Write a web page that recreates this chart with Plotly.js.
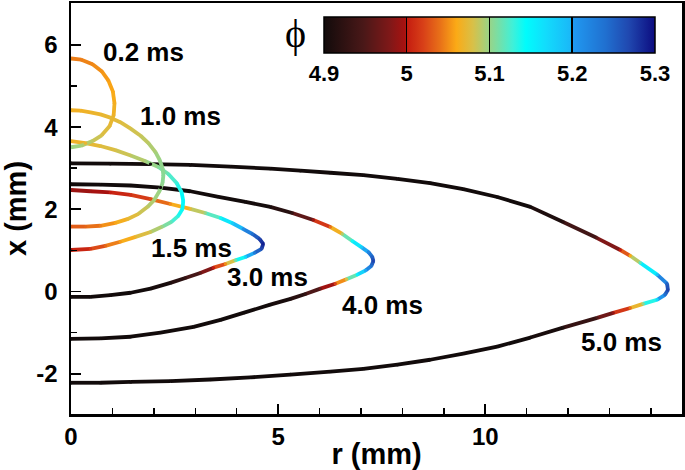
<!DOCTYPE html>
<html>
<head>
<meta charset="utf-8">
<script src="https://cdn.plot.ly/plotly-3.0.1.min.js"></script>
<style>
  body { margin: 0; background: #fff; }
  #chart { width: 685px; height: 470px; }
</style>
</head>
<body>
<div id="chart"></div>
<script>
// flame fronts, r (mm) / x (mm) / phi
const r_02 = [0, 0.25, 0.52, 0.74, 0.90, 1.01, 1.05, 1.03, 0.93, 0.74, 0.52, 0.25, 0];
const x_02 = [5.67, 5.64, 5.53, 5.36, 5.14, 4.87, 4.58, 4.29, 4.02, 3.80, 3.66, 3.55, 3.51];
const phi_02 = [5.045, 5.045, 5.048, 5.052, 5.056, 5.06, 5.064, 5.068, 5.074, 5.08, 5.088, 5.095, 5.1];

const r_10 = [0, 0.23, 0.47, 0.71, 0.95, 1.19, 1.43, 1.68, 1.87, 2.04, 2.14, 2.21, 2.23, 2.21, 2.14, 2.01, 1.85, 1.63, 1.36, 1.07, 0.71, 0.35, 0];
const x_10 = [4.41, 4.40, 4.36, 4.31, 4.23, 4.12, 3.97, 3.79, 3.61, 3.39, 3.20, 3.00, 2.83, 2.64, 2.45, 2.23, 2.06, 1.89, 1.76, 1.67, 1.60, 1.58, 1.58];
const phi_10 = [5.065, 5.066, 5.068, 5.07, 5.073, 5.076, 5.08, 5.085, 5.09, 5.095, 5.1, 5.103, 5.105, 5.103, 5.1, 5.095, 5.088, 5.08, 5.07, 5.058, 5.045, 5.035, 5.03];

const r_15 = [0, 0.35, 0.71, 1.07, 1.44, 1.80, 2.11, 2.35, 2.55, 2.67, 2.71, 2.69, 2.59, 2.42, 2.21, 1.92, 1.56, 1.19, 0.83, 0.47, 0];
const x_15 = [3.66, 3.61, 3.54, 3.44, 3.31, 3.17, 3.03, 2.86, 2.64, 2.42, 2.20, 2.01, 1.84, 1.69, 1.58, 1.45, 1.33, 1.21, 1.11, 1.04, 1.01];
const phi_15 = [5.065, 5.07, 5.075, 5.08, 5.087, 5.095, 5.105, 5.118, 5.13, 5.14, 5.148, 5.145, 5.135, 5.118, 5.1, 5.085, 5.07, 5.055, 5.035, 5.015, 4.995];

const r_30 = [0, 0.47, 0.95, 1.44, 1.92, 2.40, 2.88, 3.24, 3.61, 3.90, 4.16, 4.38, 4.55, 4.64, 4.60, 4.43, 4.21, 3.97, 3.73, 3.44, 3.12, 2.76, 2.40, 1.92, 1.44, 0.95, 0.47, 0];
const x_30 = [2.47, 2.44, 2.41, 2.35, 2.25, 2.13, 2.01, 1.91, 1.79, 1.66, 1.52, 1.40, 1.28, 1.16, 1.04, 0.94, 0.84, 0.76, 0.67, 0.58, 0.45, 0.33, 0.21, 0.07, -0.03, -0.09, -0.13, -0.13];
const phi_30 = [4.99, 4.995, 5.0, 5.01, 5.025, 5.05, 5.075, 5.1, 5.14, 5.18, 5.21, 5.24, 5.27, 5.29, 5.27, 5.23, 5.17, 5.11, 5.05, 5.0, 4.96, 4.93, 4.91, 4.9, 4.9, 4.9, 4.9, 4.9];

const r_40 = [0, 0.71, 1.44, 2.16, 2.88, 3.53, 4.21, 4.81, 5.34, 5.85, 6.26, 6.55, 6.79, 7.01, 7.18, 7.27, 7.30,
              7.25, 7.11, 6.91, 6.65, 6.38, 6.02, 5.66, 5.30, 4.81, 4.16, 3.61, 2.96, 2.16, 1.44, 0.71, 0];
const x_40 = [2.61, 2.60, 2.58, 2.53, 2.44, 2.31, 2.18, 2.06, 1.91, 1.74, 1.57, 1.40, 1.23, 1.08, 0.96, 0.85, 0.74,
              0.62, 0.51, 0.41, 0.30, 0.19, 0.07, -0.06, -0.18, -0.32, -0.52, -0.69, -0.86, -1.00, -1.10, -1.14, -1.15];
const phi_40 = [4.9, 4.9, 4.9, 4.9, 4.9, 4.9, 4.9, 4.905, 4.93, 4.99, 5.04, 5.09, 5.14, 5.18, 5.22, 5.25, 5.27,
                5.24, 5.2, 5.15, 5.08, 5.02, 4.97, 4.93, 4.91, 4.9, 4.9, 4.9, 4.9, 4.9, 4.9, 4.9, 4.9];

const r_50 = [0, 0.95, 1.92, 2.88, 3.85, 4.81, 5.54, 6.26, 7.06, 7.88, 8.67, 9.47, 10.29, 11.09, 11.88, 12.70, 13.26, 13.50, 13.74, 14.15, 14.39, 14.41,
              14.34, 14.15, 13.81, 13.50, 13.09, 12.70, 11.88, 11.09, 10.29, 9.47, 8.67, 7.88, 7.06, 6.26, 5.30, 4.33, 3.37, 2.40, 1.44, 0.71, 0];
const x_50 = [3.12, 3.11, 3.10, 3.08, 3.04, 2.99, 2.94, 2.89, 2.83, 2.74, 2.64, 2.49, 2.30, 2.06, 1.69, 1.30, 1.01, 0.87, 0.70, 0.41, 0.19, 0.04,
              -0.08, -0.20, -0.30, -0.40, -0.52, -0.64, -0.88, -1.12, -1.34, -1.51, -1.66, -1.78, -1.88, -1.95, -2.02, -2.09, -2.14, -2.18, -2.20, -2.22, -2.22];
const phi_50 = [4.9, 4.9, 4.9, 4.9, 4.9, 4.9, 4.9, 4.9, 4.9, 4.9, 4.9, 4.9, 4.9, 4.9, 4.92, 4.96, 5.0, 5.06, 5.12, 5.19, 5.25, 5.27,
                5.24, 5.17, 5.1, 5.04, 4.99, 4.95, 4.91, 4.9, 4.9, 4.9, 4.9, 4.9, 4.9, 4.9, 4.9, 4.9, 4.9, 4.9, 4.9, 4.9, 4.9];

// time labels
const labelText = ['0.2 ms', '1.0 ms', '1.5 ms', '3.0 ms', '4.0 ms', '5.0 ms'];
const labelR = [1.76, 2.65, 2.92, 4.75, 7.52, 13.30];
const labelX = [5.82, 4.27, 1.07, 0.36, -0.32, -1.24];

const yTicks = [-2, 0, 2, 4, 6];
const yTickText = ['-2', '0', '2', '4', '6'];
const phiTicks = [4.9, 5.0, 5.1, 5.2, 5.3];
const phiTickText = ['4.9', '5', '5.1', '5.2', '5.3'];
const phiMin = 4.9, phiMax = 5.3;

const cscale = [
  [0, '#120b0b'], [0.12, '#4a1818'], [0.2, '#801818'], [0.245, '#a81210'],
  [0.25, '#c41c10'], [0.3, '#d84018'], [0.35, '#e87018'], [0.4, '#fbaa16'],
  [0.45, '#d8c048'], [0.5, '#98d488'], [0.57, '#40f0d8'], [0.61, '#00fcfc'],
  [0.67, '#12dcfc'], [0.745, '#1ab8f8'], [0.755, '#2098f0'], [0.85, '#2070d0'],
  [0.92, '#2048b0'], [1, '#0c0c80']
];

function hex2rgb(h) {
  return [parseInt(h.slice(1, 3), 16), parseInt(h.slice(3, 5), 16), parseInt(h.slice(5, 7), 16)];
}
function colorAt(v) {
  let t = (v - phiMin) / (phiMax - phiMin);
  t = Math.max(0, Math.min(1, t));
  for (let i = 1; i < cscale.length; i++) {
    if (t <= cscale[i][0]) {
      const a = cscale[i - 1], b = cscale[i];
      const f = (t - a[0]) / (b[0] - a[0] || 1);
      const ca = hex2rgb(a[1]), cb = hex2rgb(b[1]);
      const c = ca.map((q, k) => Math.round(q + (cb[k] - q) * f));
      return 'rgb(' + c.join(',') + ')';
    }
  }
  return cscale[cscale.length - 1][1];
}

const curves = [
  [r_50, x_50, phi_50], [r_40, x_40, phi_40], [r_30, x_30, phi_30],
  [r_15, x_15, phi_15], [r_10, x_10, phi_10], [r_02, x_02, phi_02]
];

const lw = 3.8;
let data = [];
for (const [rr, xx, pp] of curves) {
  for (let i = 0; i < rr.length - 1; i++) {
    data.push({
      x: [rr[i], rr[i + 1]], y: [xx[i], xx[i + 1]],
      type: 'scatter', mode: 'lines',
      line: {color: colorAt((pp[i] + pp[i + 1]) / 2), width: lw},
      hoverinfo: 'skip', showlegend: false
    });
  }
}

// joints + colour bar
const boldFont = {family: 'Liberation Sans, Arial, sans-serif', color: '#000', weight: 'bold'};
data.push({
  x: [].concat(...curves.map(c => c[0])),
  y: [].concat(...curves.map(c => c[1])),
  type: 'scatter', mode: 'markers', hoverinfo: 'skip', showlegend: false,
  marker: {
    size: lw - 0.4, color: [].concat(...curves.map(c => c[2])),
    colorscale: cscale, cmin: phiMin, cmax: phiMax,
    showscale: true,
    colorbar: {
      orientation: 'h',
      x: 0.414, xanchor: 'left', y: 0.966, yanchor: 'top',
      len: 331, lenmode: 'pixels', thickness: 36, thicknessmode: 'pixels',
      xpad: 0, ypad: 0,
      outlinewidth: 1.5, outlinecolor: '#000',
      tickmode: 'array', tickvals: phiTicks, ticktext: phiTickText,
      ticks: 'inside', ticklen: 36, tickwidth: 1.5, tickcolor: '#000',
      tickfont: Object.assign({size: 22}, boldFont)
    }
  }
});

const annotations = labelText.map((t, i) => ({
  x: labelR[i], y: labelX[i], xref: 'x', yref: 'y', text: t, showarrow: false,
  font: Object.assign({size: 26}, boldFont)
}));
annotations.push({
  x: (295 - 71) / 611, y: (414 - 33) / 411, xref: 'paper', yref: 'paper',
  text: '\u03D5', showarrow: false, yanchor: 'middle', xanchor: 'center',
  font: {family: 'Liberation Serif, serif', size: 40, color: '#000'}
});

let layout = {
  width: 685, height: 470,
  margin: {l: 71, r: 3, t: 3, b: 56},
  paper_bgcolor: '#fff', plot_bgcolor: '#fff',
  showlegend: false,
  xaxis: {
    range: [0, 14.75], dtick: 5, tick0: 0,
    showgrid: false, zeroline: false,
    showline: true, linewidth: 2.5, linecolor: '#000', mirror: true,
    ticks: 'inside', ticklen: 10, tickwidth: 1.8, tickcolor: '#000',
    minor: {dtick: 1, ticks: 'inside', ticklen: 6, tickwidth: 1.5, tickcolor: '#000'},
    tickfont: Object.assign({size: 24}, boldFont),
    title: {text: 'r (mm)', font: Object.assign({size: 29}, boldFont), standoff: 4}
  },
  yaxis: {
    range: [-2.98, 7.02], tickmode: 'array', tickvals: yTicks, ticktext: yTickText,
    showgrid: false, zeroline: false,
    showline: true, linewidth: 2.5, linecolor: '#000', mirror: true,
    ticks: 'inside', ticklen: 10, tickwidth: 1.8, tickcolor: '#000',
    minor: {dtick: 1, ticks: 'inside', ticklen: 6, tickwidth: 1.5, tickcolor: '#000'},
    tickfont: Object.assign({size: 24}, boldFont),
    ticklabelstandoff: 6,
    title: {text: 'x (mm)', font: Object.assign({size: 29}, boldFont), standoff: 8}
  },
  annotations: annotations
};

Plotly.newPlot('chart', data, layout, {displayModeBar: false, staticPlot: true});
</script>
</body>
</html>
